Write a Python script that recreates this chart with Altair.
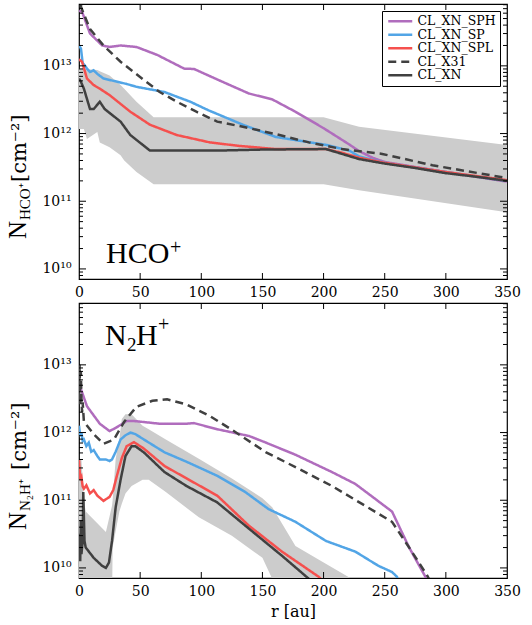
import altair as alt
import pandas as pd

# ---------------------------------------------------------------------------
# Radial column-density profiles, r in au, N in cm^-2
# ---------------------------------------------------------------------------
SERIES = ["CL_XN_SPH", "CL_XN_SP", "CL_XN_SPL", "CL_X31", "CL_XN"]
COLORS = ["#b06dbd", "#52a5e6", "#f5504e", "#404040", "#404040"]
DASHES = [[1, 0], [1, 0], [1, 0], [8, 5], [1, 0]]

# --- HCO+ ---
hco_sph_r = [0, 2.5, 9, 19, 25, 34, 47, 64, 86, 94, 113, 139, 158, 177, 200, 221, 229, 240, 250, 275, 300, 350]
hco_sph_n = [6.5e13, 6.3e13, 3.0e13, 2.0e13, 1.9e13, 2.0e13, 1.9e13, 1.45e13, 9.1e12, 9.0e12, 6.3e12,
             3.9e12, 3.2e12, 2.1e12, 1.2e12, 6.9e11, 5.5e11, 4.4e11, 3.8e11, 3.2e11, 2.7e11, 1.95e11]

hco_sp_r = [0, 1.6, 3, 5, 6.5, 9, 12, 15, 20, 39, 47, 61, 70, 91, 106, 134, 161, 202, 221, 229, 250, 300, 350]
hco_sp_n = [2.0e13, 1.8e13, 1.1e13, 1.0e13, 9.1e12, 8.1e12, 8.6e12, 7.6e12, 6.5e12, 5.4e12, 4.9e12, 4.4e12,
            4.1e12, 2.95e12, 2.2e12, 1.35e12, 8.9e11, 6.8e11, 5.6e11, 4.6e11, 3.7e11, 2.7e11, 2.0e11]

hco_spl_r = [0, 2.5, 6.5, 12, 17, 25, 42, 58, 80, 107, 130, 161, 202, 215, 229, 250, 300, 350]
hco_spl_n = [1.25e13, 1.15e13, 6.5e12, 5.2e12, 4.6e12, 3.7e12, 2.1e12, 1.35e12, 9.5e11, 7.4e11, 6.6e11,
             5.9e11, 5.9e11, 5.2e11, 4.4e11, 3.7e11, 2.7e11, 2.05e11]

hco_x31_r = [1, 4, 9, 20, 34, 53, 66, 80, 96, 113, 134, 161, 188, 215, 248, 289, 350]
hco_x31_n = [8.0e13, 5.8e13, 3.5e13, 2.0e13, 1.15e13, 6.2e12, 4.1e12, 2.95e12, 2.1e12, 1.5e12, 1.26e12,
             9.8e11, 7.4e11, 5.9e11, 5.0e11, 3.4e11, 2.2e11]

hco_xn_r = [0, 1.6, 4, 9, 12, 17, 21, 34, 42, 58, 80, 113, 150, 202, 229, 250, 275, 300, 325, 350]
hco_xn_n = [6.5e12, 5.8e12, 4.6e12, 2.3e12, 2.3e12, 2.95e12, 2.3e12, 1.5e12, 9.5e11, 5.6e11, 5.6e11,
            5.6e11, 5.8e11, 5.9e11, 4.2e11, 3.6e11, 3.1e11, 2.6e11, 2.3e11, 2.0e11]

hco_band_r = [0, 4, 6.5, 15, 17, 25, 34, 37, 47, 61, 200, 229, 350]
hco_band_hi = [9.1e12, 9.1e12, 8.9e12, 8.7e12, 8.3e12, 7.2e12, 5.2e12, 4.6e12, 2.95e12, 1.74e12, 1.74e12,
               1.26e12, 6.8e11]
hco_band_lo = [1.17e12, 1.17e12, 8.3e11, 1.05e12, 7.4e11, 6.3e11, 4.8e11, 4.0e11, 2.7e11, 1.78e11, 1.78e11,
               1.45e11, 6.9e10]

# --- N2H+ ---
n2h_sph_r = [0, 1, 6.5, 17, 25, 31, 39, 45, 66, 88, 94, 113, 139, 152, 177, 207, 226, 256, 270, 287]
n2h_sph_n = [5.6e12, 4.7e12, 2.45e12, 1.35e12, 1.05e12, 1.2e12, 1.48e12, 1.48e12, 1.35e12, 1.35e12,
             1.38e12, 1.12e12, 8.9e11, 7.2e11, 4.7e11, 2.6e11, 1.74e11, 6.8e10, 2.0e10, 5.6e9]

n2h_sp_r = [0, 1, 2, 3, 4, 6, 8, 10, 12, 15, 17, 22, 25, 27, 30, 34, 38, 42, 46, 53, 70, 88, 113, 136,
            155, 177, 202, 226, 245, 256, 260, 263]
n2h_sp_n = [1.26e12, 8.9e11, 1.0e12, 7.6e11, 7.9e11, 6.3e11, 7.1e11, 5.2e11, 5.5e11, 4.5e11, 4.0e11,
            4.0e11, 3.8e11, 4.0e11, 5.2e11, 7.9e11, 9.1e11, 1.0e12, 9.5e11, 7.9e11, 5.1e11, 3.7e11, 2.3e11,
            1.32e11, 7.4e10, 4.8e10, 2.5e10, 1.74e10, 1.07e10, 8.7e9, 7.4e9, 5.0e9]

n2h_spl_r = [0, 1, 2, 3, 4, 6, 9, 12, 15, 20, 25, 28, 31, 35, 39, 45, 53, 70, 88, 113, 139, 166, 196, 200]
n2h_spl_n = [4.0e11, 2.0e11, 2.2e11, 1.6e11, 1.48e11, 1.66e11, 1.26e11, 1.41e11, 1.17e11, 9.8e10, 1.12e11,
             1.41e11, 2.3e11, 4.2e11, 6.3e11, 7.2e11, 5.8e11, 3.2e11, 2.1e11, 1.17e11, 4.2e10, 1.74e10,
             7.4e9, 6.3e9]

n2h_x31_r = [0, 0.5, 1, 1.5, 2, 2.5, 3, 4, 12, 20, 28.6, 37, 47, 60, 72, 88, 98, 107, 125, 153, 180, 207,
             245, 256, 270, 285, 290]
n2h_x31_n = [3.2e12, 1.0e13, 2.5e12, 7.9e12, 3.2e12, 2.0e12, 2.8e12, 1.45e12, 9.5e11, 6.8e11, 7.9e11,
             1.45e12, 2.4e12, 2.95e12, 3.1e12, 2.6e12, 2.1e12, 1.75e12, 1.1e12, 5.1e11, 2.9e11, 1.62e11,
             6.3e10, 4.8e10, 2.0e10, 7.6e9, 5.0e9]

n2h_xn_r = [0, 1, 1.5, 2, 3, 3.5, 4.5, 5.5, 12, 19, 22, 24.5, 27, 30, 34, 38, 43, 46, 53, 70, 88, 113, 139,
            166, 188, 192]
n2h_xn_n = [3.2e10, 1.26e10, 5.0e10, 1.6e10, 2.5e10, 1.32e11, 2.5e10, 2.0e10, 1.41e10, 1.07e10, 1.0e10,
            1.2e10, 2.5e10, 7.9e10, 2.0e11, 4.5e11, 6.3e11, 6.3e11, 5.1e11, 2.6e11, 1.62e11, 9.3e10, 3.8e10,
            1.51e10, 6.9e9, 5.6e9]

n2h_band_r = [0, 2, 4, 5.5, 22, 27, 27.5, 30, 33, 35, 38, 43, 52, 57, 71, 98, 125, 150, 158, 177, 199,
              223, 230]
n2h_band_hi = [4.0e11, 4.0e11, 1.0e11, 6.8e10, 3.4e10, 8.3e10, 1.0e11, 4.1e11, 7.9e11, 1.58e12, 1.86e12,
               1.86e12, 1.26e12, 1.12e12, 7.9e11, 4.1e11, 2.1e11, 1.07e11, 7.9e10, 2.1e10, 1.23e10, 6.9e9,
               5.0e9]
n2h_band_lo = [3e9, 3e9, 3e9, 3e9, 3e9, 3e9, 2.0e10, 3.5e10, 6.8e10, 8.9e10, 1.26e11, 1.62e11, 2.0e11,
               2.0e11, 1.32e11, 5.6e10, 3.0e10, 1.41e10, 6.9e9, 3e9, 3e9, 3e9, 3e9]

X_TICKS = [0, 50, 100, 150, 200, 250, 300, 350]
Y_MAJOR = [1e10, 1e11, 1e12, 1e13]
Y_MINOR = [m * 10.0 ** k for k in range(9, 14) for m in range(2, 10) if 7.1e9 < m * 10.0 ** k < 8.2e13]

W, H = 428, 275
SERIF = "DejaVu Serif"
TIMES = "Liberation Serif"

xscale = alt.Scale(domain=[0, 350], nice=False, zero=False)
yscale = alt.Scale(type="log", domain=[7.1e9, 8.2e13], nice=False)

exp_expr = "round(log(datum.value)/LN10)"
ylabel_expr = (f"{exp_expr} == 10 ? '10¹⁰' : {exp_expr} == 11 ? '10¹¹' : "
               f"{exp_expr} == 12 ? '10¹²' : '10¹³'")


def make_axes(show_xtitle):
    xaxis = alt.Axis(values=X_TICKS, ticks=False, tickSize=0, domain=False, grid=False,
                     labelFont=SERIF, labelFontSize=14, labelColor="black", labelPadding=6,
                     title="r [au]" if show_xtitle else None, titleFont=SERIF, titleFontSize=16,
                     titleFontWeight="normal", titleColor="black", titlePadding=5, labelFlush=False)
    yaxis = alt.Axis(values=Y_MAJOR, labelExpr=ylabel_expr, ticks=False, tickSize=0, domain=False,
                     grid=False, labelFont=SERIF, labelFontSize=14, labelColor="black", labelPadding=8,
                     title=None, labelFlush=False)
    return xaxis, yaxis


def series_frame(pairs):
    rows = []
    for name, rs, ns in pairs:
        for r, n in zip(rs, ns):
            rows.append({"series": name, "r": r, "n": n})
    return pd.DataFrame(rows)


# a short horizontal stroke as legend swatch: drawn from x=0 to x=24 at size 64
legend = alt.Legend(orient="top-right", title=None, offset=7, padding=4, fillColor="white",
                    strokeColor="black", cornerRadius=0, labelFont=SERIF,
                    labelFontSize=12.5, labelColor="black", symbolType="M-1,0H5", symbolSize=64,
                    symbolStrokeWidth=2.5, labelOffset=19, rowPadding=0.5, labelLimit=200)


def panel(pairs, band, label_marks, ytitle_marks, show_xtitle):
    xaxis, yaxis = make_axes(show_xtitle)
    X = alt.X("r:Q", scale=xscale, axis=xaxis)
    Y = alt.Y("n:Q", scale=yscale, axis=yaxis)

    band_df = pd.DataFrame({"r": band[0], "n": band[1], "n2": band[2]})
    band_layer = alt.Chart(band_df).mark_area(color="#cccccc", opacity=1, clip=True).encode(
        x=X, y=Y, y2="n2:Q")

    lines = alt.Chart(series_frame(pairs)).mark_line(strokeWidth=2.5, clip=True, strokeCap="butt").encode(
        x=X, y=Y,
        color=alt.Color("series:N", scale=alt.Scale(domain=SERIES, range=COLORS), legend=legend),
        strokeDash=alt.StrokeDash("series:N", scale=alt.Scale(domain=SERIES, range=DASHES), legend=legend),
    )

    ticks = []
    for vals, length in ((Y_MAJOR, 7), (Y_MINOR, 4)):
        df = pd.DataFrame({"n": vals})
        ticks.append(alt.Chart(df).mark_rule(color="black", strokeWidth=1).encode(
            y=Y, x=alt.value(0), x2=alt.value(length)))
        ticks.append(alt.Chart(df).mark_rule(color="black", strokeWidth=1).encode(
            y=Y, x=alt.value(W), x2=alt.value(W - length)))
    xdf = pd.DataFrame({"r": X_TICKS[1:-1]})
    ticks.append(alt.Chart(xdf).mark_rule(color="black", strokeWidth=1).encode(
        x=X, y=alt.value(H), y2=alt.value(H - 6)))
    ticks.append(alt.Chart(xdf).mark_rule(color="black", strokeWidth=1).encode(
        x=X, y=alt.value(0), y2=alt.value(6)))

    texts = []
    for txt, font, size, px, py, angle in label_marks + ytitle_marks:
        kw = dict(text=txt, font=font, fontSize=size, color="black", align="left",
                  baseline="alphabetic")
        if angle:
            kw["angle"] = angle
        texts.append(alt.Chart(pd.DataFrame({"t": [txt]})).mark_text(**kw).encode(
            x=alt.value(px), y=alt.value(py)))

    return alt.layer(band_layer, lines, *ticks, *texts).properties(width=W, height=H)


top = panel(
    [("CL_XN_SPH", hco_sph_r, hco_sph_n), ("CL_XN_SP", hco_sp_r, hco_sp_n),
     ("CL_XN_SPL", hco_spl_r, hco_spl_n), ("CL_X31", hco_x31_r, hco_x31_n),
     ("CL_XN", hco_xn_r, hco_xn_n)],
    (hco_band_r, hco_band_hi, hco_band_lo),
    [("HCO", TIMES, 30, 27, 259, 0), ("+", TIMES, 20, 91, 250, 0)],
    [("N", TIMES, 25, -53, 235, 270), ("HCO⁺", TIMES, 15, -49, 216, 270),
     ("[cm⁻²]", SERIF, 21, -53, 178, 270)],
    False,
)

bottom = panel(
    [("CL_XN_SPH", n2h_sph_r, n2h_sph_n), ("CL_XN_SP", n2h_sp_r, n2h_sp_n),
     ("CL_XN_SPL", n2h_spl_r, n2h_spl_n), ("CL_X31", n2h_x31_r, n2h_x31_n),
     ("CL_XN", n2h_xn_r, n2h_xn_n)],
    (n2h_band_r, n2h_band_hi, n2h_band_lo),
    [("N", TIMES, 30, 26, 42, 0), ("2", TIMES, 19, 48, 48, 0), ("H", TIMES, 30, 57, 42, 0),
     ("+", TIMES, 20, 79, 28, 0)],
    [("N", TIMES, 25, -53, 227, 270), ("N₂H⁺", TIMES, 15, -49, 208, 270),
     ("[cm⁻²]", SERIF, 21, -53, 167, 270)],
    True,
)

chart = alt.vconcat(top, bottom, spacing=1).properties(
    padding={"left": 5, "top": 2, "right": 5, "bottom": 2},
    background="white",
).configure_view(stroke="black", strokeWidth=1.2).resolve_scale(color="shared", strokeDash="shared")

chart.save("out.html", embed_options={"renderer": "svg", "actions": False})
